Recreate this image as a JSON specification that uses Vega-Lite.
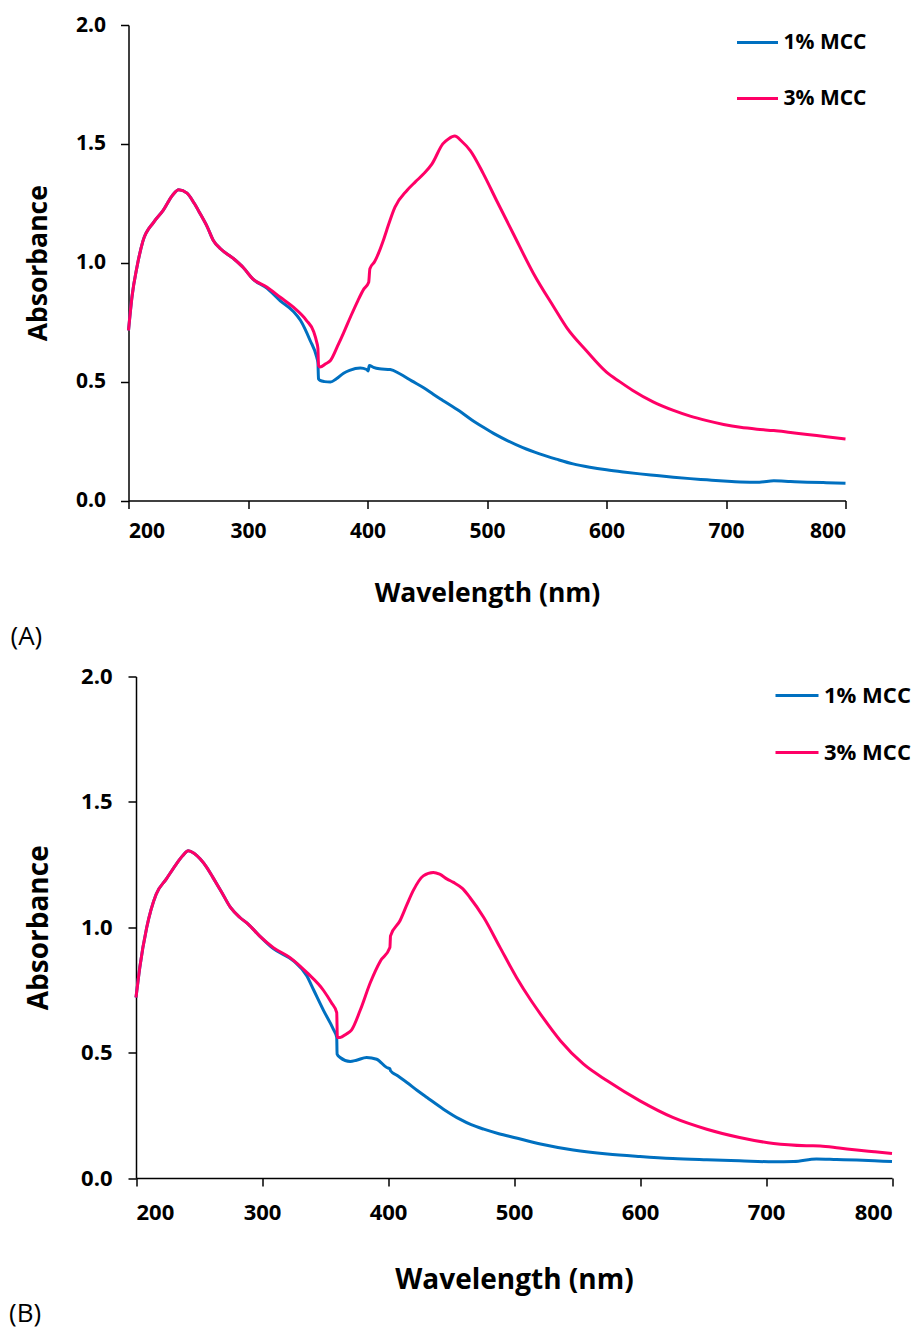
{
  "$schema": "https://vega.github.io/schema/vega-lite/v6.json",
  "background": "white",
  "padding": {"left": 8.5, "top": 14, "right": 5, "bottom": 6},
  "config": {
    "font": "Open Sans",
    "view": {"stroke": null},
    "axis": {"domainColor": "black", "tickColor": "black", "labelColor": "black", "titleColor": "black", "grid": false, "labelFont": "Open Sans", "titleFont": "Open Sans", "labelFontWeight": "bold", "titleFontWeight": "bold", "domainWidth": 1.5, "tickWidth": 1.5, "tickSize": 8},
    "legend": {"labelFont": "Open Sans", "labelFontWeight": "bold", "labelColor": "black", "symbolType": "stroke", "symbolStrokeWidth": 3, "padding": 0},
    "title": {"font": "Open Sans", "fontWeight": "normal", "color": "black"}
  },
  "datasets": {
    "panelA": [
      {"s": "1% MCC", "wl": 200, "A": 0.715}, {"s": "1% MCC", "wl": 203, "A": 0.86}, {"s": "1% MCC", "wl": 207, "A": 0.98}, {"s": "1% MCC", "wl": 212, "A": 1.09}, {"s": "1% MCC", "wl": 221, "A": 1.17}, {"s": "1% MCC", "wl": 229, "A": 1.22}, {"s": "1% MCC", "wl": 237, "A": 1.285}, {"s": "1% MCC", "wl": 242, "A": 1.307}, {"s": "1% MCC", "wl": 249, "A": 1.293}, {"s": "1% MCC", "wl": 255, "A": 1.25}, {"s": "1% MCC", "wl": 260, "A": 1.206}, {"s": "1% MCC", "wl": 266, "A": 1.15}, {"s": "1% MCC", "wl": 271, "A": 1.094}, {"s": "1% MCC", "wl": 277, "A": 1.059}, {"s": "1% MCC", "wl": 288, "A": 1.017}, {"s": "1% MCC", "wl": 296, "A": 0.98}, {"s": "1% MCC", "wl": 304, "A": 0.932}, {"s": "1% MCC", "wl": 316, "A": 0.892}, {"s": "1% MCC", "wl": 327, "A": 0.84}, {"s": "1% MCC", "wl": 338, "A": 0.795}, {"s": "1% MCC", "wl": 344, "A": 0.757}, {"s": "1% MCC", "wl": 352, "A": 0.673}, {"s": "1% MCC", "wl": 357.5, "A": 0.603}, {"s": "1% MCC", "wl": 358.5, "A": 0.58}, {"s": "1% MCC", "wl": 359, "A": 0.512}, {"s": "1% MCC", "wl": 360.3, "A": 0.505}, {"s": "1% MCC", "wl": 364, "A": 0.5}, {"s": "1% MCC", "wl": 369, "A": 0.498}, {"s": "1% MCC", "wl": 374, "A": 0.512}, {"s": "1% MCC", "wl": 380, "A": 0.535}, {"s": "1% MCC", "wl": 385, "A": 0.547}, {"s": "1% MCC", "wl": 394, "A": 0.557}, {"s": "1% MCC", "wl": 399.3, "A": 0.551}, {"s": "1% MCC", "wl": 400.5, "A": 0.545}, {"s": "1% MCC", "wl": 401.5, "A": 0.568}, {"s": "1% MCC", "wl": 405, "A": 0.56}, {"s": "1% MCC", "wl": 410, "A": 0.554}, {"s": "1% MCC", "wl": 419, "A": 0.551}, {"s": "1% MCC", "wl": 427, "A": 0.533}, {"s": "1% MCC", "wl": 437, "A": 0.503}, {"s": "1% MCC", "wl": 447, "A": 0.474}, {"s": "1% MCC", "wl": 455, "A": 0.447}, {"s": "1% MCC", "wl": 463, "A": 0.421}, {"s": "1% MCC", "wl": 477, "A": 0.376}, {"s": "1% MCC", "wl": 487, "A": 0.34}, {"s": "1% MCC", "wl": 497, "A": 0.308}, {"s": "1% MCC", "wl": 507, "A": 0.278}, {"s": "1% MCC", "wl": 517, "A": 0.252}, {"s": "1% MCC", "wl": 530, "A": 0.222}, {"s": "1% MCC", "wl": 544, "A": 0.196}, {"s": "1% MCC", "wl": 558, "A": 0.174}, {"s": "1% MCC", "wl": 572, "A": 0.154}, {"s": "1% MCC", "wl": 586, "A": 0.14}, {"s": "1% MCC", "wl": 600, "A": 0.129}, {"s": "1% MCC", "wl": 614, "A": 0.12}, {"s": "1% MCC", "wl": 628, "A": 0.112}, {"s": "1% MCC", "wl": 642, "A": 0.105}, {"s": "1% MCC", "wl": 656, "A": 0.098}, {"s": "1% MCC", "wl": 670, "A": 0.092}, {"s": "1% MCC", "wl": 684, "A": 0.087}, {"s": "1% MCC", "wl": 698, "A": 0.082}, {"s": "1% MCC", "wl": 712, "A": 0.078}, {"s": "1% MCC", "wl": 728, "A": 0.077}, {"s": "1% MCC", "wl": 740, "A": 0.083}, {"s": "1% MCC", "wl": 754, "A": 0.08}, {"s": "1% MCC", "wl": 768, "A": 0.077}, {"s": "1% MCC", "wl": 784, "A": 0.075}, {"s": "1% MCC", "wl": 800, "A": 0.073},
      {"s": "3% MCC", "wl": 200, "A": 0.715}, {"s": "3% MCC", "wl": 203, "A": 0.86}, {"s": "3% MCC", "wl": 207, "A": 0.98}, {"s": "3% MCC", "wl": 212, "A": 1.09}, {"s": "3% MCC", "wl": 221, "A": 1.17}, {"s": "3% MCC", "wl": 229, "A": 1.22}, {"s": "3% MCC", "wl": 237, "A": 1.285}, {"s": "3% MCC", "wl": 242, "A": 1.307}, {"s": "3% MCC", "wl": 249, "A": 1.293}, {"s": "3% MCC", "wl": 255, "A": 1.25}, {"s": "3% MCC", "wl": 260, "A": 1.206}, {"s": "3% MCC", "wl": 266, "A": 1.15}, {"s": "3% MCC", "wl": 271, "A": 1.094}, {"s": "3% MCC", "wl": 277, "A": 1.059}, {"s": "3% MCC", "wl": 288, "A": 1.017}, {"s": "3% MCC", "wl": 296, "A": 0.98}, {"s": "3% MCC", "wl": 304, "A": 0.932}, {"s": "3% MCC", "wl": 316, "A": 0.897}, {"s": "3% MCC", "wl": 327, "A": 0.855}, {"s": "3% MCC", "wl": 338, "A": 0.813}, {"s": "3% MCC", "wl": 349, "A": 0.757}, {"s": "3% MCC", "wl": 355, "A": 0.71}, {"s": "3% MCC", "wl": 357.5, "A": 0.666}, {"s": "3% MCC", "wl": 358.5, "A": 0.64}, {"s": "3% MCC", "wl": 359, "A": 0.568}, {"s": "3% MCC", "wl": 360.3, "A": 0.561}, {"s": "3% MCC", "wl": 365, "A": 0.575}, {"s": "3% MCC", "wl": 369, "A": 0.589}, {"s": "3% MCC", "wl": 375, "A": 0.65}, {"s": "3% MCC", "wl": 380, "A": 0.705}, {"s": "3% MCC", "wl": 386, "A": 0.775}, {"s": "3% MCC", "wl": 392, "A": 0.841}, {"s": "3% MCC", "wl": 397, "A": 0.89}, {"s": "3% MCC", "wl": 401, "A": 0.918}, {"s": "3% MCC", "wl": 402, "A": 0.975}, {"s": "3% MCC", "wl": 406, "A": 1.005}, {"s": "3% MCC", "wl": 409, "A": 1.037}, {"s": "3% MCC", "wl": 413, "A": 1.09}, {"s": "3% MCC", "wl": 416, "A": 1.136}, {"s": "3% MCC", "wl": 423, "A": 1.234}, {"s": "3% MCC", "wl": 433, "A": 1.304}, {"s": "3% MCC", "wl": 440, "A": 1.34}, {"s": "3% MCC", "wl": 447, "A": 1.374}, {"s": "3% MCC", "wl": 454, "A": 1.416}, {"s": "3% MCC", "wl": 463, "A": 1.5}, {"s": "3% MCC", "wl": 468, "A": 1.522}, {"s": "3% MCC", "wl": 473, "A": 1.533}, {"s": "3% MCC", "wl": 479, "A": 1.51}, {"s": "3% MCC", "wl": 486, "A": 1.472}, {"s": "3% MCC", "wl": 497, "A": 1.374}, {"s": "3% MCC", "wl": 508, "A": 1.262}, {"s": "3% MCC", "wl": 522, "A": 1.122}, {"s": "3% MCC", "wl": 539, "A": 0.954}, {"s": "3% MCC", "wl": 556, "A": 0.813}, {"s": "3% MCC", "wl": 567, "A": 0.725}, {"s": "3% MCC", "wl": 583, "A": 0.631}, {"s": "3% MCC", "wl": 600, "A": 0.54}, {"s": "3% MCC", "wl": 611, "A": 0.5}, {"s": "3% MCC", "wl": 622, "A": 0.463}, {"s": "3% MCC", "wl": 639, "A": 0.415}, {"s": "3% MCC", "wl": 656, "A": 0.379}, {"s": "3% MCC", "wl": 670, "A": 0.355}, {"s": "3% MCC", "wl": 684, "A": 0.336}, {"s": "3% MCC", "wl": 698, "A": 0.32}, {"s": "3% MCC", "wl": 712, "A": 0.308}, {"s": "3% MCC", "wl": 726, "A": 0.3}, {"s": "3% MCC", "wl": 740, "A": 0.294}, {"s": "3% MCC", "wl": 754, "A": 0.286}, {"s": "3% MCC", "wl": 768, "A": 0.278}, {"s": "3% MCC", "wl": 784, "A": 0.268}, {"s": "3% MCC", "wl": 800, "A": 0.259}
    ],
    "panelB": [
      {"s": "1% MCC", "wl": 200, "A": 0.72}, {"s": "1% MCC", "wl": 203, "A": 0.84}, {"s": "1% MCC", "wl": 208.5, "A": 0.999}, {"s": "1% MCC", "wl": 216, "A": 1.132}, {"s": "1% MCC", "wl": 224, "A": 1.192}, {"s": "1% MCC", "wl": 232, "A": 1.252}, {"s": "1% MCC", "wl": 237, "A": 1.285}, {"s": "1% MCC", "wl": 241.5, "A": 1.305}, {"s": "1% MCC", "wl": 246, "A": 1.295}, {"s": "1% MCC", "wl": 251, "A": 1.272}, {"s": "1% MCC", "wl": 256, "A": 1.24}, {"s": "1% MCC", "wl": 261, "A": 1.199}, {"s": "1% MCC", "wl": 268, "A": 1.14}, {"s": "1% MCC", "wl": 275, "A": 1.079}, {"s": "1% MCC", "wl": 282.5, "A": 1.039}, {"s": "1% MCC", "wl": 289, "A": 1.013}, {"s": "1% MCC", "wl": 298, "A": 0.966}, {"s": "1% MCC", "wl": 309, "A": 0.915}, {"s": "1% MCC", "wl": 325, "A": 0.866}, {"s": "1% MCC", "wl": 335.5, "A": 0.807}, {"s": "1% MCC", "wl": 341, "A": 0.75}, {"s": "1% MCC", "wl": 349, "A": 0.667}, {"s": "1% MCC", "wl": 356.6, "A": 0.594}, {"s": "1% MCC", "wl": 359.3, "A": 0.561}, {"s": "1% MCC", "wl": 359.6, "A": 0.494}, {"s": "1% MCC", "wl": 362, "A": 0.481}, {"s": "1% MCC", "wl": 370, "A": 0.465}, {"s": "1% MCC", "wl": 375, "A": 0.47}, {"s": "1% MCC", "wl": 383, "A": 0.481}, {"s": "1% MCC", "wl": 391, "A": 0.474}, {"s": "1% MCC", "wl": 399, "A": 0.441}, {"s": "1% MCC", "wl": 401.5, "A": 0.436}, {"s": "1% MCC", "wl": 402, "A": 0.428}, {"s": "1% MCC", "wl": 407, "A": 0.41}, {"s": "1% MCC", "wl": 415, "A": 0.381}, {"s": "1% MCC", "wl": 423, "A": 0.35}, {"s": "1% MCC", "wl": 431, "A": 0.321}, {"s": "1% MCC", "wl": 444, "A": 0.275}, {"s": "1% MCC", "wl": 457, "A": 0.235}, {"s": "1% MCC", "wl": 466, "A": 0.213}, {"s": "1% MCC", "wl": 476, "A": 0.195}, {"s": "1% MCC", "wl": 488, "A": 0.177}, {"s": "1% MCC", "wl": 500, "A": 0.162}, {"s": "1% MCC", "wl": 521, "A": 0.136}, {"s": "1% MCC", "wl": 547, "A": 0.112}, {"s": "1% MCC", "wl": 574, "A": 0.096}, {"s": "1% MCC", "wl": 600, "A": 0.086}, {"s": "1% MCC", "wl": 626, "A": 0.078}, {"s": "1% MCC", "wl": 653, "A": 0.073}, {"s": "1% MCC", "wl": 679, "A": 0.069}, {"s": "1% MCC", "wl": 706, "A": 0.065}, {"s": "1% MCC", "wl": 722, "A": 0.066}, {"s": "1% MCC", "wl": 740, "A": 0.076}, {"s": "1% MCC", "wl": 756, "A": 0.074}, {"s": "1% MCC", "wl": 772, "A": 0.072}, {"s": "1% MCC", "wl": 786, "A": 0.069}, {"s": "1% MCC", "wl": 800, "A": 0.066},
      {"s": "3% MCC", "wl": 200, "A": 0.72}, {"s": "3% MCC", "wl": 203, "A": 0.84}, {"s": "3% MCC", "wl": 208.5, "A": 0.999}, {"s": "3% MCC", "wl": 216, "A": 1.132}, {"s": "3% MCC", "wl": 224, "A": 1.192}, {"s": "3% MCC", "wl": 232, "A": 1.252}, {"s": "3% MCC", "wl": 237, "A": 1.285}, {"s": "3% MCC", "wl": 241.5, "A": 1.305}, {"s": "3% MCC", "wl": 246, "A": 1.295}, {"s": "3% MCC", "wl": 251, "A": 1.272}, {"s": "3% MCC", "wl": 256, "A": 1.24}, {"s": "3% MCC", "wl": 261, "A": 1.199}, {"s": "3% MCC", "wl": 268, "A": 1.14}, {"s": "3% MCC", "wl": 275, "A": 1.079}, {"s": "3% MCC", "wl": 282.5, "A": 1.039}, {"s": "3% MCC", "wl": 289, "A": 1.013}, {"s": "3% MCC", "wl": 298, "A": 0.966}, {"s": "3% MCC", "wl": 309, "A": 0.919}, {"s": "3% MCC", "wl": 322, "A": 0.88}, {"s": "3% MCC", "wl": 335.5, "A": 0.82}, {"s": "3% MCC", "wl": 349, "A": 0.747}, {"s": "3% MCC", "wl": 355, "A": 0.7}, {"s": "3% MCC", "wl": 359.3, "A": 0.66}, {"s": "3% MCC", "wl": 359.8, "A": 0.561}, {"s": "3% MCC", "wl": 362, "A": 0.561}, {"s": "3% MCC", "wl": 367, "A": 0.575}, {"s": "3% MCC", "wl": 371, "A": 0.59}, {"s": "3% MCC", "wl": 378, "A": 0.67}, {"s": "3% MCC", "wl": 386, "A": 0.78}, {"s": "3% MCC", "wl": 394, "A": 0.866}, {"s": "3% MCC", "wl": 401.5, "A": 0.919}, {"s": "3% MCC", "wl": 402, "A": 0.966}, {"s": "3% MCC", "wl": 409.5, "A": 1.026}, {"s": "3% MCC", "wl": 415, "A": 1.09}, {"s": "3% MCC", "wl": 420, "A": 1.146}, {"s": "3% MCC", "wl": 428, "A": 1.205}, {"s": "3% MCC", "wl": 436, "A": 1.219}, {"s": "3% MCC", "wl": 441, "A": 1.212}, {"s": "3% MCC", "wl": 447, "A": 1.192}, {"s": "3% MCC", "wl": 452, "A": 1.179}, {"s": "3% MCC", "wl": 459, "A": 1.155}, {"s": "3% MCC", "wl": 465, "A": 1.119}, {"s": "3% MCC", "wl": 476, "A": 1.039}, {"s": "3% MCC", "wl": 489, "A": 0.919}, {"s": "3% MCC", "wl": 502, "A": 0.8}, {"s": "3% MCC", "wl": 513, "A": 0.712}, {"s": "3% MCC", "wl": 521, "A": 0.654}, {"s": "3% MCC", "wl": 537, "A": 0.547}, {"s": "3% MCC", "wl": 555, "A": 0.455}, {"s": "3% MCC", "wl": 574, "A": 0.388}, {"s": "3% MCC", "wl": 600, "A": 0.308}, {"s": "3% MCC", "wl": 626, "A": 0.242}, {"s": "3% MCC", "wl": 653, "A": 0.195}, {"s": "3% MCC", "wl": 679, "A": 0.162}, {"s": "3% MCC", "wl": 706, "A": 0.138}, {"s": "3% MCC", "wl": 732, "A": 0.129}, {"s": "3% MCC", "wl": 743, "A": 0.128}, {"s": "3% MCC", "wl": 758, "A": 0.12}, {"s": "3% MCC", "wl": 772, "A": 0.112}, {"s": "3% MCC", "wl": 786, "A": 0.105}, {"s": "3% MCC", "wl": 800, "A": 0.098}
    ]
  },
  "columns": 1,
  "spacing": 15.5,
  "resolve": {"scale": {"x": "independent", "y": "independent", "color": "independent"}, "legend": {"color": "independent"}},
  "concat": [
    {
      "width": 717,
      "height": 475.5,
      "title": {"text": "(A)", "orient": "bottom", "anchor": "start", "frame": "bounds", "fontSize": 26, "offset": 16.5, "dx": -15},
      "data": {"name": "panelA"},
      "mark": {"type": "line", "strokeWidth": 3, "interpolate": "monotone"},
      "encoding": {
        "x": {"field": "wl", "type": "quantitative", "scale": {"domain": [200, 800], "nice": false, "zero": false},
              "axis": {"values": [200, 300, 400, 500, 600, 700, 800], "format": "d", "title": "Wavelength (nm)", "labelFontSize": 21, "titleFontSize": 26.5, "labelPadding": 12, "titlePadding": 39}},
        "y": {"field": "A", "type": "quantitative", "scale": {"domain": [0, 2], "nice": false},
              "axis": {"values": [0, 0.5, 1, 1.5, 2], "format": ".1f", "title": "Absorbance", "labelFontSize": 21, "titleFontSize": 26.5, "labelPadding": 15, "titlePadding": 23}},
        "color": {"field": "s", "type": "nominal", "scale": {"domain": ["1% MCC", "3% MCC"], "range": ["#0070C0", "#FF0066"]},
                  "legend": {"title": null, "orient": "none", "legendX": 607, "legendY": -4.5, "symbolSize": 1681, "labelFontSize": 21, "labelOffset": 4, "rowPadding": 24}}
      }
    },
    {
      "width": 763.5,
      "height": 501.6,
      "title": {"text": "(B)", "orient": "bottom", "anchor": "start", "frame": "bounds", "fontSize": 26, "offset": 7, "dx": -16.5},
      "data": {"name": "panelB"},
      "mark": {"type": "line", "strokeWidth": 3, "interpolate": "monotone"},
      "encoding": {
        "x": {"field": "wl", "type": "quantitative", "scale": {"domain": [200, 800], "range": [7.5, 763.5], "nice": false, "zero": false},
              "axis": {"values": [200, 300, 400, 500, 600, 700, 800], "format": "d", "title": "Wavelength (nm)", "labelFontSize": 22, "titleFontSize": 28, "labelPadding": 16, "titlePadding": 43}},
        "y": {"field": "A", "type": "quantitative", "scale": {"domain": [0, 2], "nice": false},
              "axis": {"values": [0, 0.5, 1, 1.5, 2], "format": ".1f", "title": "Absorbance", "labelFontSize": 22, "titleFontSize": 28, "labelPadding": 16, "titlePadding": 27, "offset": -7.5}},
        "color": {"field": "s", "type": "nominal", "scale": {"domain": ["1% MCC", "3% MCC"], "range": ["#0070C0", "#FF0066"]},
                  "legend": {"title": null, "orient": "none", "legendX": 645.5, "legendY": -4, "symbolSize": 1849, "labelFontSize": 22, "labelOffset": 4, "rowPadding": 23}}
      }
    }
  ]
}
